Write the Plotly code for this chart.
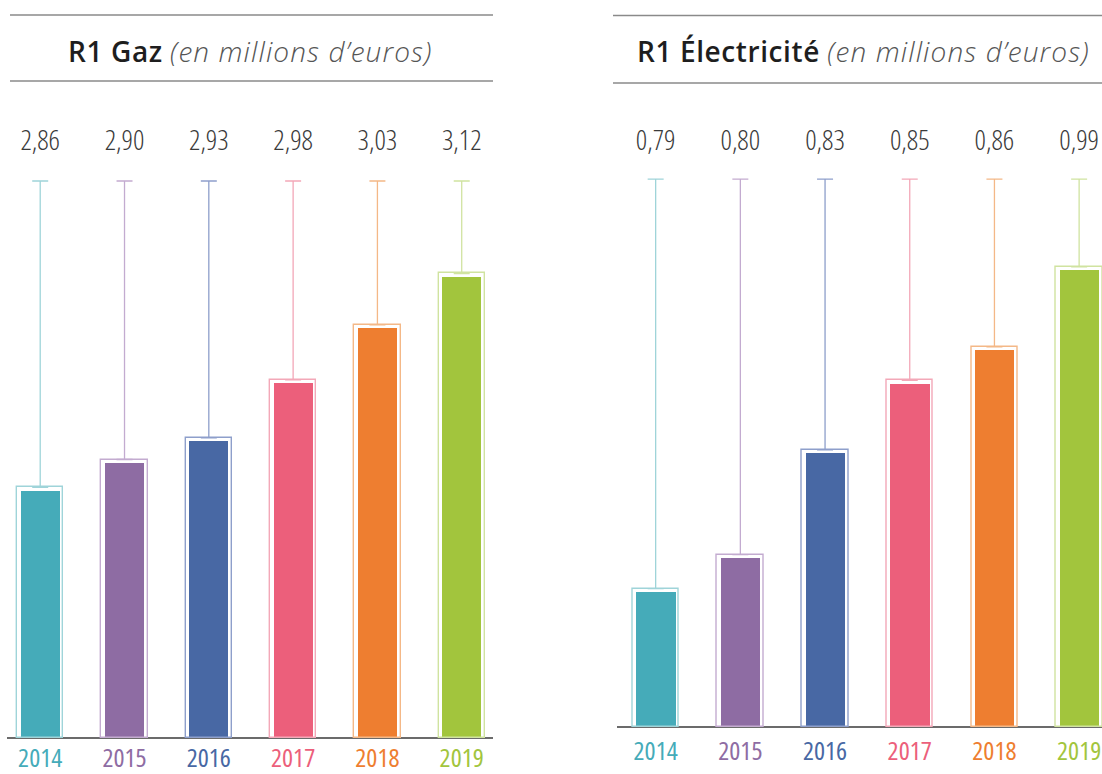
import plotly.graph_objects as go

W, H = 1102, 774

years = ["2014", "2015", "2016", "2017", "2018", "2019"]

# Label values (millions d'euros)
gaz_values = [2.86, 2.90, 2.93, 2.98, 3.03, 3.12]
elec_values = [0.79, 0.80, 0.83, 0.85, 0.86, 0.99]

# Bar heights as drawn in the picture (percent of whisker height)
gaz_heights = [44.4, 49.4, 53.3, 63.7, 73.6, 82.8]
elec_heights = [24.7, 30.9, 50.0, 62.7, 68.8, 83.4]

fill_colors = ["#45ABB9", "#8E6CA3", "#4868A4", "#EC5F7B", "#EE7E30", "#A2C53D"]
light_colors = ["#9FD4D9", "#C3ABD0", "#8E9FCB", "#F3A8B8", "#F4B887", "#D0E3A0"]

FONT = "Open Sans"

fig = go.Figure()

def fmt(v):
    return f"{v:.2f}".replace(".", ",")

def narrow(s, weight=300):
    return f"<span style='font-stretch:75%;font-weight:{weight}'>{s}</span>"

def add_panel(values, heights, xa, ya, label_y, year_y):
    for i, (h, c, lc) in enumerate(zip(heights, fill_colors, light_colors)):
        fig.add_trace(go.Bar(
            x=[i], y=[h], width=0.463, xaxis=xa, yaxis=ya,
            marker=dict(color=c, line=dict(width=0)),
            hoverinfo="skip", showlegend=False))
        top = h + 0.6
        fig.add_trace(go.Bar(
            x=[i], y=[top], width=0.548, xaxis=xa, yaxis=ya,
            marker=dict(color="rgba(0,0,0,0)", line=dict(color=lc, width=1.4)),
            error_y=dict(type="data", symmetric=False, array=[100 - top],
                         arrayminus=[0], color=lc, thickness=1.3, width=8),
            hoverinfo="skip", showlegend=False))
    fig.add_trace(go.Scatter(
        x=list(range(len(values))), y=[label_y] * len(values), mode="text",
        text=[narrow(fmt(v)) for v in values], xaxis=xa, yaxis=ya,
        textfont=dict(family=FONT, size=28, color="#3a3a3a"),
        hoverinfo="skip", showlegend=False, cliponaxis=False))
    fig.add_trace(go.Scatter(
        x=list(range(len(years))), y=[year_y] * len(years), mode="text",
        text=[narrow(y, 400) for y in years], xaxis=xa, yaxis=ya,
        textfont=dict(family=FONT, size=26, color=fill_colors),
        hoverinfo="skip", showlegend=False, cliponaxis=False))

add_panel(gaz_values, gaz_heights, "x", "y", 106.8, -4.1)
add_panel(elec_values, elec_heights, "x2", "y2", 106.6, -4.85)

ax_common = dict(showgrid=False, showticklabels=False, zeroline=False,
                 showline=False, ticks="", fixedrange=True)
ay_common = dict(showgrid=False, showticklabels=False, zeroline=True,
                 zerolinecolor="#6b6b6b", zerolinewidth=1.6, showline=False,
                 ticks="", fixedrange=True, layer="above traces")

fig.update_layout(
    width=W, height=H, autosize=False,
    margin=dict(l=0, r=0, t=0, b=0, pad=0),
    paper_bgcolor="white", plot_bgcolor="white",
    barmode="overlay", bargap=0,
    xaxis=dict(domain=[7 / W, 493 / W], range=[-0.394, 5.371], **ax_common),
    yaxis=dict(domain=[0, 1], range=[-6.46, 132.5], **ay_common),
    xaxis2=dict(domain=[616.7 / W, 1], range=[-0.46, 5.27], anchor="y2", **ax_common),
    yaxis2=dict(domain=[0, 1], range=[-8.52, 132.7], anchor="x2", **ay_common),
)

# Title rules
for (x0, x1, y) in [(10, 493, 15), (10, 493, 81), (613, W, 15.5), (613, W, 83)]:
    fig.add_shape(type="line", xref="paper", yref="paper",
                  x0=x0 / W, x1=x1 / W, y0=1 - y / H, y1=1 - y / H,
                  line=dict(color="#8a8a8a", width=1.5))

titles = [
    ("R1 Gaz", 250, 51),
    ("R1 Électricité", 863, 51),
]
for name, cx, cy in titles:
    fig.add_annotation(
        xref="paper", yref="paper", x=cx / W, y=1 - cy / H,
        xanchor="center", yanchor="middle", showarrow=False,
        text=(f"<span style='font-weight:600;letter-spacing:0.6px'>{name}</span> "
              f"<span style='color:#555555;font-weight:300;letter-spacing:1.1px'><i>(en millions d’euros)</i></span>"),
        font=dict(family=FONT, size=28, color="#1e1e1e"))

fig.write_html("out.html", config={"displayModeBar": False},
               post_script="document.body.style.margin='0';")
